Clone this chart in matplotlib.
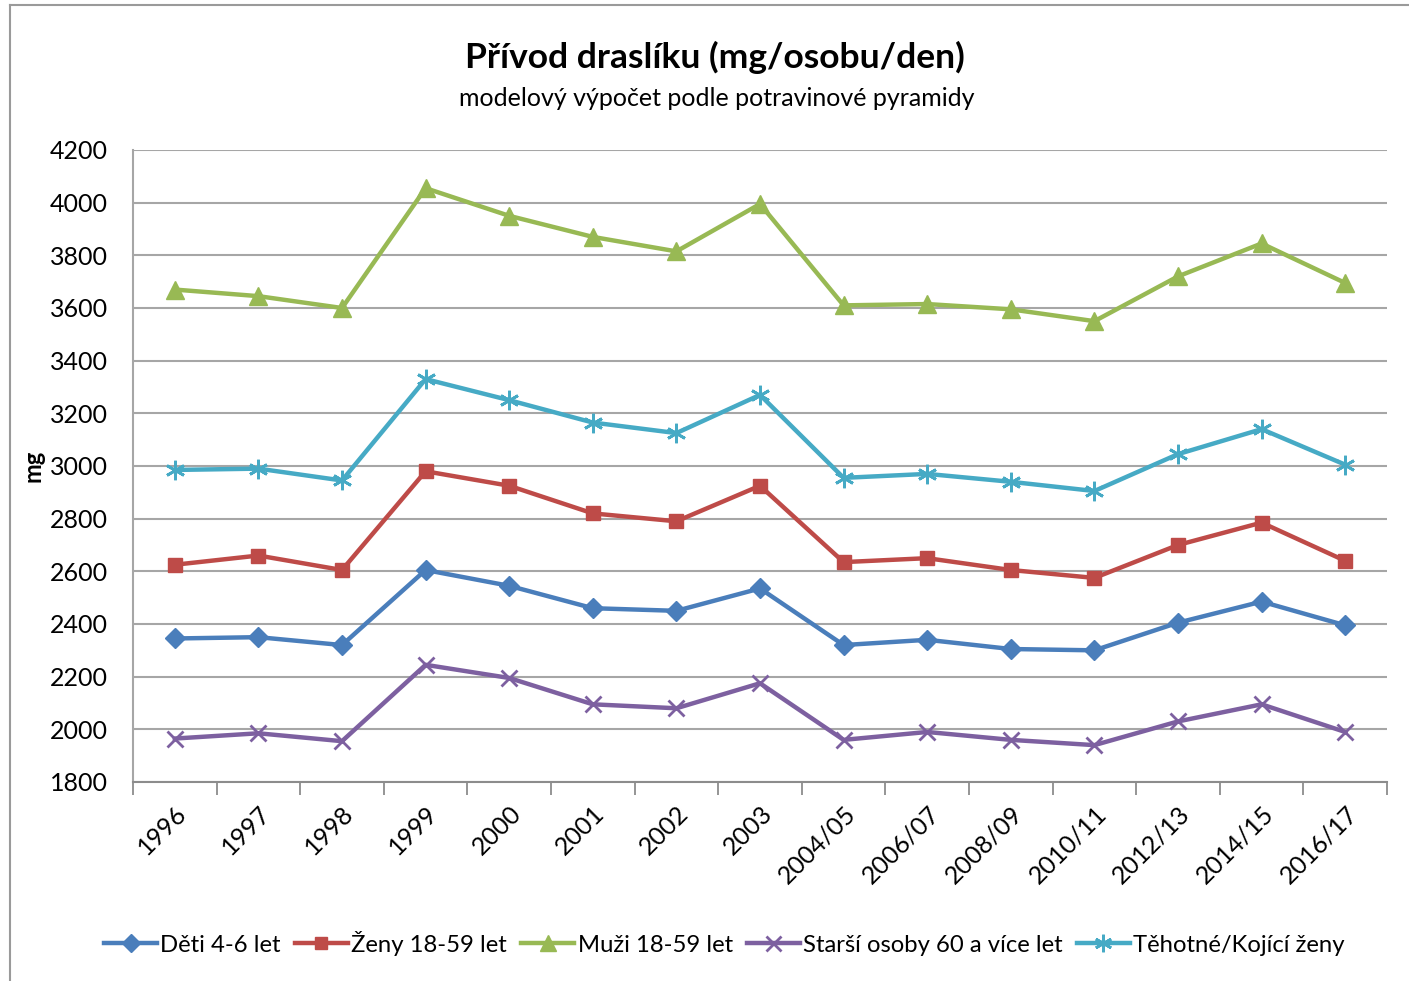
import matplotlib
matplotlib.use("Agg")
import matplotlib.pyplot as plt
from matplotlib.lines import Line2D

plt.rcParams['font.family'] = ['Lato', 'DejaVu Sans']

categories = ["1996", "1997", "1998", "1999", "2000", "2001", "2002", "2003",
              "2004/05", "2006/07", "2008/09", "2010/11", "2012/13", "2014/15", "2016/17"]
deti = [2345, 2350, 2320, 2605, 2545, 2460, 2450, 2535, 2320, 2340, 2305, 2300, 2405, 2485, 2395]
zeny = [2625, 2660, 2605, 2980, 2925, 2820, 2790, 2925, 2635, 2650, 2605, 2575, 2700, 2785, 2640]
muzi = [3670, 3645, 3600, 4055, 3950, 3870, 3815, 3995, 3610, 3615, 3595, 3550, 3720, 3845, 3695]
starsi = [1965, 1985, 1955, 2245, 2195, 2095, 2080, 2175, 1960, 1990, 1960, 1940, 2030, 2095, 1990]
tehotne = [2985, 2990, 2945, 3330, 3250, 3165, 3125, 3270, 2955, 2970, 2940, 2905, 3045, 3140, 3005]

series = [
    ("Děti 4-6 let", deti, "#4A7EBB", "D", 10),
    ("Ženy 18-59 let", zeny, "#BE4B48", "s", 10),
    ("Muži 18-59 let", muzi, "#98B954", "^", 13),
    ("Starší osoby 60 a více let", starsi, "#7D60A0", "x", 12),
    ("Těhotné/Kojící ženy", tehotne, "#46AAC5", (6, 2, 0), 14),
]

fig = plt.figure(figsize=(14.09, 9.81), dpi=100)
ax = fig.add_axes([133/1409, 1-782/981, (1387-133)/1409, (782-150)/981])

x = list(range(len(categories)))
for name, vals, col, mk, ms in series:
    ax.plot(x, vals, color=col, lw=3.2, marker=mk, markersize=ms,
            markeredgecolor=col, markerfacecolor=col, markeredgewidth=2 if mk in ("x", (6, 2, 0)) else 1,
            label=name, zorder=3)

ax.set_ylim(1800, 4200)
ax.set_yticks(range(1800, 4201, 200))
ax.set_xlim(-0.5, len(categories) - 0.5)
ax.set_xticks(x)
ax.set_xticklabels(categories, rotation=45, ha='right', rotation_mode='anchor', fontsize=18)
ax.set_xticks([i - 0.5 for i in range(len(categories) + 1)], minor=True)
ax.tick_params(axis='x', which='major', length=0, pad=14)
ax.tick_params(axis='x', which='minor', length=9, width=1.3, color='#8C8C8C', direction='out')
ax.tick_params(axis='y', length=0, labelsize=18, pad=18)
ax.grid(axis='y', color='#A6A6A6', lw=1.5, zorder=0)
for s in ['top', 'right']:
    ax.spines[s].set_visible(False)
ax.spines['left'].set_color('#A6A6A6')
ax.spines['left'].set_linewidth(1.5)
ax.spines['bottom'].set_color('#8C8C8C')
ax.spines['bottom'].set_linewidth(1.5)

fig.text(22/1409, 1-466/981, "mg", rotation=90, fontsize=17, fontweight='bold', va='center', ha='left')

fig.text(0.5 + 10/1409, 1-57/981, "Přívod draslíku (mg/osobu/den)", fontsize=25.5, fontweight='bold',
         ha='center', va='center')
fig.text(0.5 + 12/1409, 1-98/981, "modelový výpočet podle potravinové pyramidy", fontsize=18,
         ha='center', va='center')

leg = fig.legend(loc='center', bbox_to_anchor=(0.5 + 20/1409, 1-943/981), ncol=5, frameon=False,
                 fontsize=17.2, handlelength=2.2, handletextpad=0.15, columnspacing=0.6,
                 markerscale=0.9)

# outer frame of the screenshot
fig.add_artist(Line2D([10/1409, 10/1409], [0, 1-5/981], transform=fig.transFigure, color='#9A9A9A', lw=1.5))
fig.add_artist(Line2D([10/1409, 1], [1-5/981, 1-5/981], transform=fig.transFigure, color='#9A9A9A', lw=1.5))

fig.savefig("out.png", dpi=100)
